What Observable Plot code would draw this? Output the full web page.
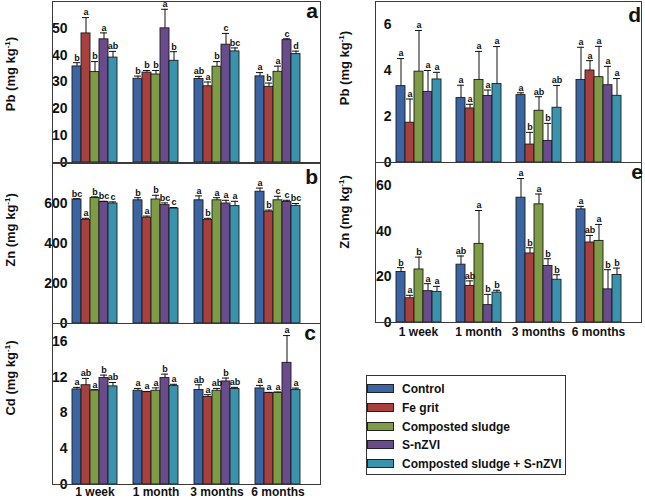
<!DOCTYPE html>
<html><head><meta charset="utf-8">
<script src="https://cdn.jsdelivr.net/npm/d3@7"></script>
<script src="https://cdn.jsdelivr.net/npm/@observablehq/plot@0.6"></script>
<style>
body{margin:0;background:#fff;}
#wrap{position:relative;width:645px;height:499px;overflow:hidden;font-family:"Liberation Sans",Arial,sans-serif;font-weight:bold;color:#111}
.panel{position:absolute;}
.frame{position:absolute;border:1px solid #3a3a3a;box-sizing:border-box;pointer-events:none}
.ylab{position:absolute;transform:translate(-50%,-50%) rotate(-90deg);white-space:nowrap;font-size:13px;line-height:13px}
.ylab sup{font-size:8px;vertical-align:5px;line-height:0}
.plab{position:absolute;font-size:21px;line-height:21px;transform:translateX(-100%)}
.legend{position:absolute;left:366px;top:375px;width:200px;height:100px;border:1px solid #333;box-sizing:border-box}
.item{position:absolute;left:0;height:12px;font-size:12px;line-height:12px;white-space:nowrap}
.sw{position:absolute;left:0;top:1px;width:27px;height:9px;border:1px solid #222;box-sizing:border-box}
.item span{position:absolute;left:35px;top:0}
</style></head>
<body><div id="wrap"></div>
<script>
const groups = ["1 week","1 month","3 months","6 months"];
const treatments = ["Control","Fe grit","Composted sludge","S-nZVI","Composted sludge + S-nZVI"];
const colors = ["#3b64a2","#a8403f","#7e9c46","#6a4c8c","#3a93ac"];

// Panel a: Pb (left)
const pbAMean = [[35.8,48.1,33.7,45.9,39.1],[31.2,33.5,32.8,50.0,37.9],[31.1,28.4,35.7,43.9,41.4],[32.1,28.2,33.8,45.6,40.4]];
const pbASe   = [[1.4,5.9,3.9,2.4,2.3],[1.0,0.8,1.5,7.1,3.4],[1.0,1.6,1.9,4.2,1.3],[1.4,1.4,2.1,0.5,1.1]];
const pbALet  = [["b","a","b","a","ab"],["b","b","b","a","b"],["ab","a","b","c","bc"],["a","b","a","c","d"]];
const pbATicks = [0,10,20,30,40,50];

// Panel b: Zn (left)
const znBMean = [[620,518,628,608,600],[616,529,620,592,575],[616,518,616,600,587],[659,559,616,608,588]];
const znBSe   = [[4,8,5,3,8],[13,8,21,11,5],[22,8,13,16,24],[18,8,20,8,12]];
const znBLet  = [["bc","a","b","bc","c"],["b","a","b","bc","c"],["a","b","a","a","a"],["a","b","c","c","bc"]];
const znBTicks = [0,200,400,600];

// Panel c: Cd (left)
const cdCMean = [[10.63,11.1,10.52,11.9,10.97],[10.48,10.33,10.48,11.9,11.0],[10.56,9.78,10.48,11.52,10.67],[10.74,10.22,10.26,13.6,10.56]];
const cdCSe   = [[0.23,0.76,0.08,0.33,0.43],[0.26,0.07,0.32,0.44,0.2],[0.59,0.26,0.26,0.38,0.19],[0.34,0.08,0.07,3.05,0.22]];
const cdCLet  = [["a","ab","a","b","ab"],["a","a","a","b","a"],["ab","a","ab","b","ab"],["a","a","a","a","a"]];
const cdCTicks = [0,4,8,12,16];

// Panel d: Pb (right)
const pbDMean = [[3.32,1.73,3.95,3.07,3.61],[2.8,2.35,3.59,2.89,3.41],[2.93,0.78,2.25,0.94,2.38],[3.59,4.0,3.71,3.36,2.9]];
const pbDSe   = [[1.2,1.03,1.79,0.93,0.31],[0.56,0.18,1.24,0.26,1.63],[0.1,0.53,0.61,0.76,0.97],[1.42,0.43,1.34,0.82,0.75]];
const pbDLet  = [["a","a","a","a","a"],["a","a","a","a","a"],["a","b","ab","b","ab"],["a","a","a","a","a"]];
const pbDTicks = [0,2,4,6];

// Panel e: Zn (right)
const znEMean = [[22.1,10.6,23.2,13.7,13.4],[25.3,16.0,34.4,7.6,13.1],[54.6,30.2,51.7,24.7,18.7],[49.5,35.0,35.7,14.5,20.8]];
const znESe   = [[1.9,1.3,5.4,3.3,2.4],[3.8,2.2,14.6,4.7,1.0],[8.4,2.5,4.5,3.2,2.2],[1.3,3.1,7.2,8.6,3.0]];
const znELet  = [["b","a","b","a","a"],["ab","ab","a","b","b"],["a","b","a","b","b"],["a","ab","a","b","b"]];
const znETicks = [0,20,40,60];

const panels = [
  {tag:"a", el:"Pb", left:0, top:0, mt:1, areaH:161, mb:1, ml:52, mr:5, domain:[0,60], ticks:pbATicks, means:pbAMean, se:pbASe, letters:pbALet, xAxis:false, xPad:3, ylx:10, yly:74, plx:318, ply:0},
  {tag:"b", el:"Zn", left:0, top:162, mt:1, areaH:160, mb:1, ml:52, mr:5, domain:[0,800], ticks:znBTicks, means:znBMean, se:znBSe, letters:znBLet, xAxis:false, xPad:3, ylx:10, yly:230, plx:318, ply:166},
  {tag:"c", el:"Cd", left:0, top:322, mt:1, areaH:161, mb:15, ml:52, mr:5, domain:[0,18], ticks:cdCTicks, means:cdCMean, se:cdCSe, letters:cdCLet, xAxis:true, xPad:3, ylx:10, yly:378, plx:316, ply:322},
  {tag:"d", el:"Pb", left:320, top:0, mt:1, areaH:161, mb:1, ml:55, mr:4, domain:[0,7], ticks:pbDTicks, means:pbDMean, se:pbDSe, letters:pbDLet, xAxis:false, xPad:3, ylx:344, yly:68, plx:641, ply:4},
  {tag:"e", el:"Zn", left:320, top:162, mt:0, areaH:160, mb:18, ml:55, mr:4, domain:[0,70], ticks:znETicks, means:znEMean, se:znESe, letters:znELet, xAxis:true, xPad:5, ylx:344, yly:212, plx:643, ply:161}
];

const wrap = document.getElementById("wrap");
const font = '"Liberation Sans", Arial, sans-serif';

for (const p of panels) {
  const rows = [];
  groups.forEach((g,i) => treatments.forEach((t,j) => rows.push({
    group:g, treatment:t, mean:p.means[i][j], top:p.means[i][j]+p.se[i][j], letter:p.letters[i][j]
  })));
  const marks = [
    Plot.barY(rows, {fx:"group", x:"treatment", y:"mean", fill:"treatment", stroke:"#1b1b1b", strokeWidth:0.9}),
    Plot.ruleX(rows, {fx:"group", x:"treatment", y1:"mean", y2:"top", stroke:"#111", strokeWidth:1}),
    Plot.tickY(rows, {fx:"group", x:"treatment", y:"top", stroke:"#111", strokeWidth:1, insetLeft:1, insetRight:1}),
    Plot.text(rows, {fx:"group", x:"treatment", y:"top", text:"letter", dy:-5, fontSize:9, fontWeight:"bold", fill:"#111"}),
    Plot.axisY({ticks:p.ticks, tickFormat:d3.format("d"), tickSize:0, tickPadding:3, label:null, fontSize:14, fontWeight:"bold"})
  ];
  if (p.xAxis) marks.push(Plot.axisFx({anchor:"bottom", tickSize:0, tickPadding:p.xPad, label:null, fontSize:12, fontWeight:"bold"}));
  const svg = Plot.plot({
    width:325, height:p.mt + p.areaH + p.mb,
    marginTop:p.mt, marginBottom:p.mb, marginLeft:p.ml, marginRight:p.mr,
    style:{fontFamily:font, fontWeight:"bold", color:"#111", background:"transparent", overflow:"visible"},
    fx:{domain:groups, paddingInner:0.2, paddingOuter:0.29, label:null, ...(p.xAxis ? {} : {axis:null})},
    x:{domain:treatments, padding:0, axis:null},
    y:{domain:p.domain, label:null},
    color:{domain:treatments, range:colors},
    marks
  });
  svg.classList.add("panel");
  svg.style.left = p.left + "px";
  svg.style.top = p.top + "px";
  wrap.appendChild(svg);

  const fr = document.createElement("div");
  fr.className = "frame";
  fr.style.left = (p.left + p.ml) + "px";
  fr.style.top = (p.top + p.mt) + "px";
  fr.style.width = (325 - p.ml - p.mr + 1) + "px";
  fr.style.height = (p.areaH + 1) + "px";
  wrap.appendChild(fr);

  const yl = document.createElement("div");
  yl.className = "ylab";
  yl.innerHTML = p.el + " (mg kg<sup>-1</sup>)";
  yl.style.left = p.ylx + "px";
  yl.style.top = p.yly + "px";
  wrap.appendChild(yl);

  const pl = document.createElement("div");
  pl.className = "plab";
  pl.textContent = p.tag;
  pl.style.left = p.plx + "px";
  pl.style.top = p.ply + "px";
  wrap.appendChild(pl);
}

const lg = document.createElement("div");
lg.className = "legend";
treatments.forEach((t,i) => {
  const it = document.createElement("div");
  it.className = "item";
  it.style.top = (7 + i*18.8) + "px";
  const sw = document.createElement("div");
  sw.className = "sw";
  sw.style.background = colors[i];
  const sp = document.createElement("span");
  sp.textContent = t;
  it.appendChild(sw); it.appendChild(sp);
  lg.appendChild(it);
});
wrap.appendChild(lg);
</script></body></html>
